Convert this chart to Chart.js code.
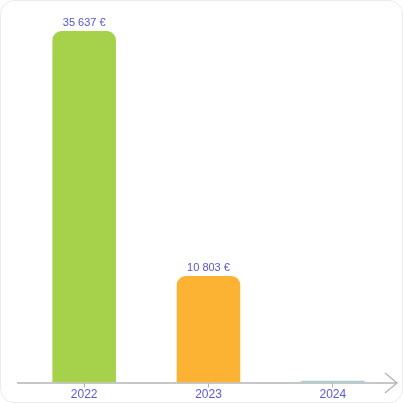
<!DOCTYPE html>
<html><head><meta charset="utf-8">
<script src="https://cdn.jsdelivr.net/npm/chart.js@4.4.1/dist/chart.umd.min.js"></script>
<style>
html,body{margin:0;padding:0;background:#fff;}
#wrap{position:relative;width:403px;height:403px;box-sizing:border-box;border:1px solid #ececf0;border-radius:14px;overflow:hidden;}
canvas{display:block;}
</style></head>
<body><div id="wrap"><canvas id="c" width="401" height="401"></canvas></div>
<script>
const categories = ["2022", "2023", "2024"];
const values = [35637, 10803, 200];
const showLabel = [true, true, false];
const barColors = ["#a6d14a", "#fcb232", "#9fd0d8"];

const fmt = v => v.toLocaleString('fr-FR').replace(/\u202f|\u00a0/g, ' ') + ' €';

const labelPlugin = {
  id: 'valueLabels',
  afterDatasetsDraw(chart) {
    const ctx = chart.ctx;
    const meta = chart.getDatasetMeta(0);
    ctx.save();
    ctx.font = '11px "Liberation Sans", Arial, sans-serif';
    ctx.fillStyle = '#5555d8';
    ctx.textAlign = 'center';
    ctx.textBaseline = 'bottom';
    meta.data.forEach((bar, i) => {
      if (!showLabel[i]) return;
      ctx.fillText(fmt(values[i]), bar.x, bar.y - 3);
    });
    ctx.restore();
  }
};

const axisPlugin = {
  id: 'arrowAxis',
  beforeDatasetsDraw(chart) {
    const ctx = chart.ctx;
    const a = chart.chartArea;
    const y = a.bottom + 0.5;
    ctx.save();
    ctx.strokeStyle = '#b4b4b8';
    ctx.lineWidth = 1.5;
    ctx.beginPath();
    ctx.moveTo(a.left - 5, y);
    ctx.lineTo(a.right + 1, y);
    ctx.stroke();
    ctx.lineWidth = 1.3;
    ctx.beginPath();
    ctx.moveTo(a.right - 10, y - 10);
    ctx.lineTo(a.right + 2, y);
    ctx.lineTo(a.right - 10, y + 10);
    ctx.stroke();
    ctx.restore();
  }
};

new Chart(document.getElementById('c'), {
  type: 'bar',
  data: {
    labels: categories,
    datasets: [{
      data: values,
      backgroundColor: barColors,
      borderRadius: {topLeft: 9, topRight: 9, bottomLeft: 0, bottomRight: 0},
      borderSkipped: false,
      barPercentage: 0.72,
      categoryPercentage: 0.71
    }]
  },
  options: {
    responsive: false,
    animation: false,
    devicePixelRatio: 1,
    layout: {padding: {left: 21, right: 7, top: 30, bottom: 0}},
    plugins: {legend: {display: false}, tooltip: {enabled: false}},
    scales: {
      x: {
        grid: {display: true, drawOnChartArea: false, offset: false, color: '#b4b4b8', tickLength: 5, tickWidth: 1},
        border: {display: false},
        ticks: {color: '#5a5ade', font: {family: '"Liberation Sans", Arial, sans-serif', size: 12}, padding: 0}
      },
      y: {
        display: false,
        min: 0,
        max: 35637
      }
    }
  },
  plugins: [labelPlugin, axisPlugin]
});
</script></body></html>
